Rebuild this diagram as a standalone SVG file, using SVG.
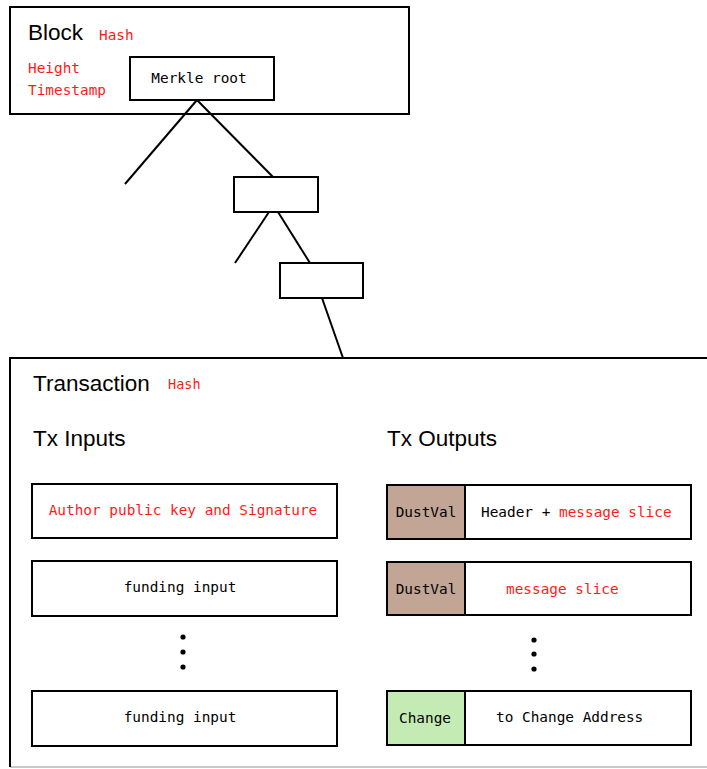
<svg xmlns="http://www.w3.org/2000/svg" width="707" height="769" viewBox="0 0 707 769">
<style>
.box{fill:#fff;stroke:#000;stroke-width:2}
.ln{stroke:#000;stroke-width:2;fill:none}
.title{font-family:"Liberation Sans",Arial,sans-serif;font-size:22.5px;fill:#000}
.mono{font-family:"DejaVu Sans Mono","Liberation Mono",monospace;font-size:14.4px;fill:#000}
.red{fill:#ff1a1a}
.dust{fill:#c2a594;stroke:#000;stroke-width:2}
.chg{fill:#c5ebb5;stroke:#000;stroke-width:2}
</style>
<rect width="707" height="769" fill="#fff"/>
<g id="block">
<rect class="box" x="10" y="7" width="399" height="107"/>
<text class="title" x="28" y="40">Block</text>
<text class="mono red" x="99" y="40">Hash</text>
<text class="mono red" x="28" y="73">Height</text>
<text class="mono red" x="28" y="95">Timestamp</text>
</g>
<g id="merkle-root">
<rect class="box" x="130" y="57" width="144" height="43"/>
<text class="mono" x="199" y="83" text-anchor="middle">Merkle root</text>
</g>
<g id="connectors">
<line class="ln" x1="197" y1="100" x2="125" y2="184"/>
<line class="ln" x1="197" y1="100" x2="273" y2="177"/>
<line class="ln" x1="269" y1="212" x2="235" y2="263"/>
<line class="ln" x1="278" y1="212" x2="310" y2="263"/>
<line class="ln" x1="322" y1="298" x2="343" y2="358"/>
</g>
<g id="merkle-node-1">
<rect class="box" x="234" y="177" width="84" height="35"/>
</g>
<g id="merkle-node-2">
<rect class="box" x="280" y="263" width="83" height="35"/>
</g>
<g id="transaction">
<line x1="10" y1="767" x2="707" y2="767" stroke="#c8c8c8" stroke-width="2"/>
<path class="ln" d="M10,767 V358 H707"/>
<text class="title" x="33" y="391">Transaction</text>
<text class="mono red" x="168" y="389" style="font-size:13.5px">Hash</text>
<text class="title" x="33" y="446">Tx Inputs</text>
<text class="title" x="387" y="446">Tx Outputs</text>
</g>
<g id="input-author">
<rect class="box" x="32" y="484" width="305" height="54"/>
<text class="mono red" x="183" y="515" text-anchor="middle">Author public key and Signature</text>
</g>
<g id="input-funding-1">
<rect class="box" x="32" y="561" width="305" height="55"/>
<text class="mono" x="180" y="592" text-anchor="middle">funding input</text>
</g>
<g id="input-dots">
<circle cx="183" cy="637" r="2.6"/>
<circle cx="183" cy="652" r="2.6"/>
<circle cx="183" cy="667" r="2.6"/>
</g>
<g id="input-funding-2">
<rect class="box" x="32" y="691" width="305" height="55"/>
<text class="mono" x="180" y="722" text-anchor="middle">funding input</text>
</g>
<g id="output-header">
<rect class="box" x="387" y="485" width="304" height="54"/>
<rect class="dust" x="387" y="485" width="78" height="54"/>
<text class="mono" x="426" y="517" text-anchor="middle">DustVal</text>
<text class="mono" x="481" y="517">Header + <tspan class="red">message slice</tspan></text>
</g>
<g id="output-slice">
<rect class="box" x="387" y="562" width="304" height="53"/>
<rect class="dust" x="387" y="562" width="78" height="53"/>
<text class="mono" x="426" y="594" text-anchor="middle">DustVal</text>
<text class="mono red" x="506" y="594">message slice</text>
</g>
<g id="output-dots">
<circle cx="534" cy="640" r="2.6"/>
<circle cx="534" cy="654" r="2.6"/>
<circle cx="534" cy="669" r="2.6"/>
</g>
<g id="output-change">
<rect class="box" x="387" y="691" width="304" height="54"/>
<rect class="chg" x="387" y="691" width="78" height="54"/>
<text class="mono" x="425" y="723" text-anchor="middle">Change</text>
<text class="mono" x="496" y="722">to Change Address</text>
</g>
</svg>
